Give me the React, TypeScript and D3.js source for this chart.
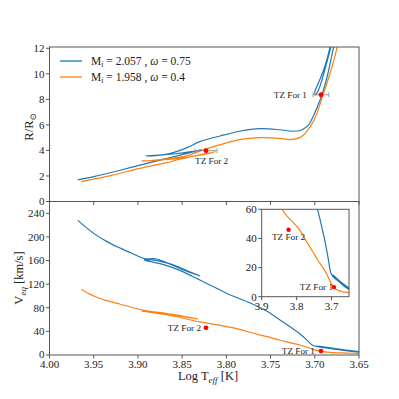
import React from 'react';
import * as d3 from 'd3';

type P = [number, number];

// Radius tracks (log Teff, R/Rsun)
const blueR: P[] = [
  [3.968, 1.7], [3.95, 1.95], [3.92, 2.45], [3.892, 2.95], [3.86, 3.5], [3.84, 3.85], [3.828, 4.06],
  [3.84, 3.9], [3.86, 3.72], [3.88, 3.6], [3.891, 3.56],
  [3.886, 3.59], [3.864, 3.76], [3.845, 4.2], [3.83, 4.69], [3.807, 5.13], [3.785, 5.5], [3.762, 5.7],
  [3.74, 5.62], [3.725, 5.5], [3.715, 5.6], [3.707, 6.0], [3.702, 6.64], [3.694, 7.95], [3.687, 9.5],
  [3.679, 12.0], [3.672, 14.0],
  [3.676, 14.0], [3.683, 12.0], [3.69, 10.3], [3.697, 9.1], [3.7, 8.6], [3.699, 8.35],
  [3.696, 8.7], [3.692, 9.5], [3.686, 11.0], [3.681, 12.3], [3.676, 13.6],
];
const orangeR: P[] = [
  [3.964, 1.56], [3.93, 2.05], [3.898, 2.6], [3.87, 3.0], [3.85, 3.35], [3.83, 3.65], [3.812, 3.9],
  [3.83, 3.62], [3.85, 3.4], [3.87, 3.27], [3.885, 3.2], [3.896, 3.18],
  [3.885, 3.2], [3.871, 3.31], [3.845, 3.57], [3.83, 3.95], [3.807, 4.45], [3.785, 4.85], [3.762, 5.0],
  [3.74, 4.95], [3.728, 4.85], [3.717, 5.0], [3.709, 5.5], [3.7, 6.5], [3.692, 8.07], [3.682, 10.2],
  [3.675, 12.0], [3.67, 13.5],
];
// Equatorial velocity tracks (log Teff, Veq km/s)
const blueV: P[] = [
  [3.968, 228], [3.95, 206], [3.935, 192], [3.92, 181], [3.905, 171], [3.892, 163], [3.88, 163],
  [3.867, 156], [3.85, 145], [3.83, 134],
  [3.84, 140], [3.855, 150], [3.87, 157], [3.885, 161], [3.893, 161],
  [3.885, 158], [3.871, 153], [3.852, 143], [3.83, 127], [3.807, 110], [3.796, 102], [3.773, 88],
  [3.754, 74], [3.744, 64], [3.729, 49], [3.717, 36], [3.708, 24], [3.703, 17], [3.698, 14.5],
  [3.69, 12.5], [3.68, 10.5], [3.665, 7.5], [3.65, 5], [3.64, 4],
  [3.65, 6], [3.665, 8.5], [3.68, 11.5], [3.694, 14.5], [3.699, 15],
  [3.69, 12.8], [3.675, 9.5], [3.66, 6.5], [3.645, 4.5],
];
const orangeV: P[] = [
  [3.964, 111], [3.95, 100], [3.935, 92], [3.92, 86], [3.898, 77.5], [3.883, 73], [3.86, 68],
  [3.845, 64], [3.832, 61],
  [3.85, 66], [3.87, 71], [3.89, 74], [3.896, 74.5],
  [3.885, 72], [3.86, 66], [3.845, 61], [3.83, 56], [3.81, 51], [3.792, 46], [3.767, 36], [3.754, 31],
  [3.739, 25], [3.717, 17], [3.703, 10], [3.695, 7], [3.686, 5], [3.67, 3.5], [3.65, 2.8], [3.64, 2.5],
];

const seriesNames = ['2.057', '1.958'];
const omegas = ['0.75', '0.4'];
const colors = ['#1f77b4', '#ff7f0e'];

const xTicks = [4.0, 3.95, 3.9, 3.85, 3.8, 3.75, 3.7, 3.65];
const topYTicks = [0, 2, 4, 6, 8, 10, 12];
const botYTicks = [0, 40, 80, 120, 160, 200, 240];
const insetXTicks = [3.9, 3.8, 3.7];
const insetYTicks = [0, 20, 40, 60];

const tzLabels = ['TZ For 1', 'TZ For 2'];
const tzLogT = [3.693, 3.823];
const tzErr = [0.009, 0.0125];
const tzR = [8.36, 3.98];
const tzV = [6.6, 46];

const FONT = "'Liberation Serif', 'DejaVu Serif', serif";

export default function App() {
  const L = 49.5, Rr = 359;
  const x = d3.scaleLinear().domain([4.0, 3.65]).range([L, Rr]);
  const yTop = d3.scaleLinear().domain([0, 12.1]).range([201.5, 47]);
  const yBot = d3.scaleLinear().domain([0, 260]).range([355, 201.5]);
  const xIn = d3.scaleLinear().domain([3.9, 3.65]).range([261.7, 349]);
  const yIn = d3.scaleLinear().domain([0, 60]).range([296.7, 209.3]);

  const mk = (xs: d3.ScaleLinear<number, number>, ys: d3.ScaleLinear<number, number>) =>
    d3.line<P>().x(d => xs(d[0])).y(d => ys(d[1])).curve(d3.curveCatmullRom.alpha(0.5));
  const lTop = mk(x, yTop), lBot = mk(x, yBot), lIn = mk(xIn, yIn);

  const spine = '#555';
  const tickFs = 11;
  const annFs = 9.2;
  const ts = { fontFamily: FONT };

  return (
    <svg width={399} height={399} style={{ position: 'absolute', left: 0, top: 0, background: '#fff', fontFamily: FONT }}>
      <defs>
        <clipPath id="cTop"><rect x={L} y={47} width={Rr - L} height={201.5 - 47} /></clipPath>
        <clipPath id="cBot"><rect x={L} y={201.5} width={Rr - L} height={355 - 201.5} /></clipPath>
        <clipPath id="cIn"><rect x={261.7} y={209.3} width={349 - 261.7} height={296.7 - 209.3} /></clipPath>
      </defs>
      <rect x={0} y={0} width={399} height={399} fill="#fff" />

      {/* TOP PANEL */}
      <g clipPath="url(#cTop)">
        <path d={lTop(blueR) || ''} fill="none" stroke={colors[0]} strokeWidth={1.2} />
        <path d={lTop(orangeR) || ''} fill="none" stroke={colors[1]} strokeWidth={1.2} />
        {tzLogT.map((t, i) => (
          <g key={i}>
            <line x1={x(t - tzErr[i])} x2={x(t + tzErr[i])} y1={yTop(tzR[i])} y2={yTop(tzR[i])} stroke="#8a8a8a" strokeWidth={0.8} />
            <line x1={x(t - tzErr[i])} x2={x(t - tzErr[i])} y1={yTop(tzR[i]) - 2.5} y2={yTop(tzR[i]) + 2.5} stroke="#8a8a8a" strokeWidth={0.8} />
            <line x1={x(t + tzErr[i])} x2={x(t + tzErr[i])} y1={yTop(tzR[i]) - 2.5} y2={yTop(tzR[i]) + 2.5} stroke="#8a8a8a" strokeWidth={0.8} />
            <circle cx={x(t)} cy={yTop(tzR[i])} r={2.4} fill="red" />
          </g>
        ))}
      </g>
      <text style={ts} x={x(tzLogT[0]) - 14} y={yTop(tzR[0]) + 3} fontSize={annFs} textAnchor="end" fill="#222">{tzLabels[0]}</text>
      <text style={ts} x={x(tzLogT[1]) - 11} y={yTop(tzR[1]) + 13.5} fontSize={annFs} fill="#222">{tzLabels[1]}</text>
      <rect x={L} y={47} width={Rr - L} height={201.5 - 47} fill="none" stroke={spine} strokeWidth={1} />
      {topYTicks.map(v => (
        <g key={v}>
          <line x1={L - 3.5} x2={L} y1={yTop(v)} y2={yTop(v)} stroke={spine} />
          <text style={ts} x={L - 5} y={yTop(v) + 3.8} fontSize={tickFs} textAnchor="end" fill="#222">{v}</text>
        </g>
      ))}
      {xTicks.map(v => (
        <line key={v} x1={x(v)} x2={x(v)} y1={201.5} y2={205} stroke={spine} />
      ))}
      <text style={ts} transform="translate(33,127) rotate(-90)" fontSize={12.5} textAnchor="middle" fill="#222">
        R/R<tspan fontSize={8.5} dy={2.5}>⊙</tspan>
      </text>

      {/* legend */}
      {seriesNames.map((m, i) => (
        <g key={m}>
          <line x1={60} x2={82} y1={61 + i * 16} y2={61 + i * 16} stroke={colors[i]} strokeWidth={1.3} />
          <text style={ts} x={91} y={65 + i * 16} fontSize={11.5} fill="#222">
            M<tspan fontSize={8} fontStyle="italic" dy={2}>i</tspan>
            <tspan dy={-2}>{` = ${m} ,  `}</tspan>
            <tspan fontStyle="italic">ω</tspan>
            <tspan>{` = ${omegas[i]}`}</tspan>
          </text>
        </g>
      ))}

      {/* BOTTOM PANEL */}
      <g clipPath="url(#cBot)">
        <path d={lBot(blueV) || ''} fill="none" stroke={colors[0]} strokeWidth={1.2} />
        <path d={lBot(orangeV) || ''} fill="none" stroke={colors[1]} strokeWidth={1.2} />
        {tzLogT.map((t, i) => (
          <circle key={i} cx={x(t)} cy={yBot(tzV[i])} r={2.4} fill="red" />
        ))}
      </g>
      <text style={ts} x={x(tzLogT[0]) - 6} y={yBot(tzV[0]) + 3} fontSize={annFs} textAnchor="end" fill="#222">{tzLabels[0]}</text>
      <text style={ts} x={x(tzLogT[1]) - 5} y={yBot(tzV[1]) + 3.5} fontSize={annFs} textAnchor="end" fill="#222">{tzLabels[1]}</text>
      <rect x={L} y={201.5} width={Rr - L} height={355 - 201.5} fill="none" stroke={spine} strokeWidth={1} />
      {botYTicks.map(v => (
        <g key={v}>
          <line x1={L - 3.5} x2={L} y1={yBot(v)} y2={yBot(v)} stroke={spine} />
          <text style={ts} x={L - 5} y={yBot(v) + (v === 0 ? 2.5 : 3.8)} fontSize={tickFs} textAnchor="end" fill="#222">{v}</text>
        </g>
      ))}
      {xTicks.map(v => (
        <g key={v}>
          <line x1={x(v)} x2={x(v)} y1={355} y2={358.5} stroke={spine} />
          <text style={ts} x={x(v)} y={368} fontSize={tickFs} textAnchor="middle" fill="#222">{d3.format('.2f')(v)}</text>
        </g>
      ))}
      <text style={ts} transform="translate(23,278) rotate(-90)" fontSize={12.5} textAnchor="middle" fill="#222">
        V<tspan fontSize={9} fontStyle="italic" dy={2.5}>eq</tspan><tspan dy={-2.5}> [km/s]</tspan>
      </text>
      <text style={ts} x={208} y={380} fontSize={12.5} textAnchor="middle" fill="#222">
        Log T<tspan fontSize={9} fontStyle="italic" dy={2.5}>eff</tspan><tspan dy={-2.5}> [K]</tspan>
      </text>

      {/* INSET */}
      <rect x={261.7} y={209.3} width={349 - 261.7} height={296.7 - 209.3} fill="#fff" />
      <g clipPath="url(#cIn)">
        <path d={lIn(blueV) || ''} fill="none" stroke={colors[0]} strokeWidth={1.2} />
        <path d={lIn(orangeV) || ''} fill="none" stroke={colors[1]} strokeWidth={1.2} />
        {tzLogT.map((t, i) => (
          <circle key={i} cx={xIn(t)} cy={yIn(tzV[i])} r={2.2} fill="red" />
        ))}
      </g>
      <text style={ts} x={xIn(tzLogT[0]) - 1} y={yIn(tzV[0]) + 3} fontSize={annFs} textAnchor="end" fill="#222">{tzLabels[0]}</text>
      <text style={ts} x={xIn(tzLogT[1])} y={yIn(tzV[1]) + 10} fontSize={annFs} textAnchor="middle" fill="#222">{tzLabels[1]}</text>
      <rect x={261.7} y={209.3} width={349 - 261.7} height={296.7 - 209.3} fill="none" stroke={spine} strokeWidth={1} />
      {insetYTicks.map(v => (
        <g key={v}>
          <line x1={261.7 - 3.5} x2={261.7} y1={yIn(v)} y2={yIn(v)} stroke={spine} />
          <text style={ts} x={261.7 - 5} y={yIn(v) + 3.8} fontSize={tickFs} textAnchor="end" fill="#222">{v}</text>
        </g>
      ))}
      {insetXTicks.map(v => (
        <g key={v}>
          <line x1={xIn(v)} x2={xIn(v)} y1={296.7} y2={300.2} stroke={spine} />
          <text style={ts} x={xIn(v)} y={309.5} fontSize={tickFs} textAnchor="middle" fill="#222">{d3.format('.1f')(v)}</text>
        </g>
      ))}
    </svg>
  );
}
